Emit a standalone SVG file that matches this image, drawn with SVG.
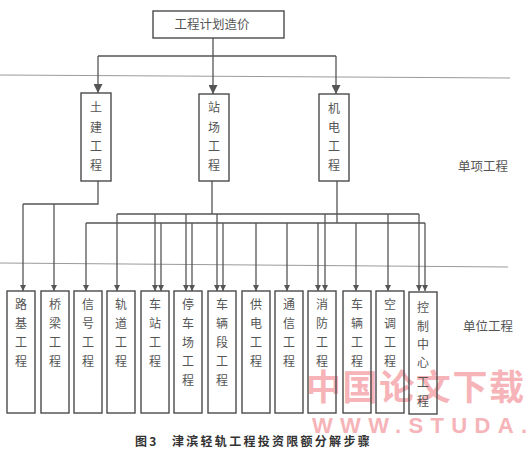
<svg xmlns="http://www.w3.org/2000/svg" width="530" height="453" viewBox="0 0 530 453">
<style>
.box{fill:none;stroke:#4a4a4a;stroke-width:1.4}
.ln{fill:none;stroke:#555;stroke-width:1.3}
.sep{stroke:#9a9a9a;stroke-width:1}
.t{font-family:"Noto Sans CJK SC","Noto Sans CJK JP",sans-serif;font-size:12px;fill:#555;text-anchor:middle}
.lab{font-family:"Noto Sans CJK SC",sans-serif;font-size:12.5px;fill:#555}
.cap{font-family:"Noto Sans CJK SC",sans-serif;font-size:12px;font-weight:bold;fill:#333;letter-spacing:2.3px}
.wm{font-family:"Noto Sans CJK SC",sans-serif;font-weight:bold;fill:#f6b4b8}
.wm2{font-family:"Liberation Sans",sans-serif;font-weight:bold;fill:#f6b4b8}
</style>
<defs>
<marker id="aS" viewBox="0 0 10 10" refX="10" refY="5" markerUnits="userSpaceOnUse" markerWidth="8" markerHeight="6" orient="auto"><path d="M0,0 L10,5 L0,10 z" fill="#555"/></marker>
<marker id="aL" viewBox="0 0 10 10" refX="10" refY="5" markerUnits="userSpaceOnUse" markerWidth="9" markerHeight="9" orient="auto"><path d="M0,0 L10,5 L0,10 z" fill="#555"/></marker>
</defs>
<rect width="530" height="453" fill="#fff"/>
<!-- watermark (under the drawing) -->
<text class="wm" x="306" y="400" font-size="35" textLength="218" lengthAdjust="spacing">中国论文下载</text>
<text class="wm2" x="312" y="433" font-size="22" textLength="215" lengthAdjust="spacing">WWW.STUDA.</text>
<!-- separators -->
<line class="sep" x1="0" y1="75" x2="510" y2="78"/>
<line class="sep" x1="0" y1="263" x2="508" y2="267"/>
<text class="lab" x="458" y="171">单项工程</text>
<text class="lab" x="463" y="331">单位工程</text>

<g id="connectors">
<path class="ln" d="M213,38 V56 M98,56 H336"/>
<line class="ln" x1="98" y1="56" x2="98" y2="93" marker-end="url(#aL)"/>
<line class="ln" x1="213" y1="56" x2="213" y2="94" marker-end="url(#aL)"/>
<line class="ln" x1="336" y1="56" x2="336" y2="94" marker-end="url(#aL)"/>
<!-- 土建 -->
<path class="ln" d="M98,181 V204 H23"/>
<line class="ln" x1="23" y1="204" x2="23" y2="291" marker-end="url(#aS)"/>
<line class="ln" x1="54" y1="204" x2="54" y2="291" marker-end="url(#aS)"/>
<!-- 站场 -->
<path class="ln" d="M212,181 V214 M117,214 H419"/>
<line class="ln" x1="117" y1="214" x2="117" y2="291" marker-end="url(#aS)"/>
<line class="ln" x1="155" y1="214" x2="155" y2="291" marker-end="url(#aS)"/>
<line class="ln" x1="186" y1="214" x2="186" y2="291" marker-end="url(#aS)"/>
<line class="ln" x1="217" y1="214" x2="217" y2="291" marker-end="url(#aS)"/>
<line class="ln" x1="325" y1="214" x2="325" y2="291" marker-end="url(#aS)"/>
<line class="ln" x1="388" y1="214" x2="388" y2="291" marker-end="url(#aS)"/>
<line class="ln" x1="419" y1="214" x2="419" y2="291" marker-end="url(#aS)"/>
<!-- 机电 -->
<path class="ln" d="M337,181 V223 M86,223 H425"/>
<line class="ln" x1="86" y1="223" x2="86" y2="291" marker-end="url(#aS)"/>
<line class="ln" x1="161" y1="223" x2="161" y2="291" marker-end="url(#aS)"/>
<line class="ln" x1="192" y1="223" x2="192" y2="291" marker-end="url(#aS)"/>
<line class="ln" x1="223" y1="223" x2="223" y2="291" marker-end="url(#aS)"/>
<line class="ln" x1="256" y1="223" x2="256" y2="291" marker-end="url(#aS)"/>
<line class="ln" x1="287" y1="223" x2="287" y2="291" marker-end="url(#aS)"/>
<line class="ln" x1="318" y1="223" x2="318" y2="291" marker-end="url(#aS)"/>
<line class="ln" x1="356" y1="223" x2="356" y2="291" marker-end="url(#aS)"/>
<line class="ln" x1="425" y1="223" x2="425" y2="291" marker-end="url(#aS)"/>
</g>

<g id="n-top"><rect class="box" x="153" y="11" width="131" height="27"/><text class="t" x="212" y="29" style="font-size:12.5px">工程计划造价</text></g>

<g id="n-tujian"><rect class="box" x="81" y="93" width="30" height="88"/>
<text class="t"><tspan x="96" y="112">土</tspan><tspan x="96" y="132">建</tspan><tspan x="96" y="151">工</tspan><tspan x="96" y="170">程</tspan></text></g>
<g id="n-zhanchang"><rect class="box" x="199" y="94" width="30" height="87"/>
<text class="t"><tspan x="214" y="112">站</tspan><tspan x="214" y="132">场</tspan><tspan x="214" y="151">工</tspan><tspan x="214" y="170">程</tspan></text></g>
<g id="n-jidian"><rect class="box" x="319" y="94" width="30" height="87"/>
<text class="t"><tspan x="334" y="113">机</tspan><tspan x="334" y="132">电</tspan><tspan x="334" y="151">工</tspan><tspan x="334" y="170">程</tspan></text></g>

<g id="n-luji"><rect class="box" x="7" y="291" width="28" height="122"/>
<text class="t"><tspan x="21" y="309">路</tspan><tspan x="21" y="328">基</tspan><tspan x="21" y="347">工</tspan><tspan x="21" y="366">程</tspan></text></g>
<g id="n-qiaoliang"><rect class="box" x="41" y="291" width="28" height="122"/>
<text class="t"><tspan x="55" y="309">桥</tspan><tspan x="55" y="328">梁</tspan><tspan x="55" y="347">工</tspan><tspan x="55" y="366">程</tspan></text></g>
<g id="n-xinhao"><rect class="box" x="74" y="291" width="28" height="122"/>
<text class="t"><tspan x="88" y="309">信</tspan><tspan x="88" y="328">号</tspan><tspan x="88" y="347">工</tspan><tspan x="88" y="366">程</tspan></text></g>
<g id="n-guidao"><rect class="box" x="107" y="291" width="28" height="122"/>
<text class="t"><tspan x="121" y="309">轨</tspan><tspan x="121" y="328">道</tspan><tspan x="121" y="347">工</tspan><tspan x="121" y="366">程</tspan></text></g>
<g id="n-chezhan"><rect class="box" x="141" y="291" width="28" height="122"/>
<text class="t"><tspan x="155" y="309">车</tspan><tspan x="155" y="328">站</tspan><tspan x="155" y="347">工</tspan><tspan x="155" y="366">程</tspan></text></g>
<g id="n-tingchechang"><rect class="box" x="174" y="291" width="28" height="122"/>
<text class="t"><tspan x="188" y="309">停</tspan><tspan x="188" y="328">车</tspan><tspan x="188" y="347">场</tspan><tspan x="188" y="366">工</tspan><tspan x="188" y="385">程</tspan></text></g>
<g id="n-cheliangduan"><rect class="box" x="208" y="291" width="28" height="122"/>
<text class="t"><tspan x="222" y="309">车</tspan><tspan x="222" y="328">辆</tspan><tspan x="222" y="347">段</tspan><tspan x="222" y="366">工</tspan><tspan x="222" y="385">程</tspan></text></g>
<g id="n-gongdian"><rect class="box" x="242" y="291" width="28" height="122"/>
<text class="t"><tspan x="256" y="309">供</tspan><tspan x="256" y="328">电</tspan><tspan x="256" y="347">工</tspan><tspan x="256" y="366">程</tspan></text></g>
<g id="n-tongxin"><rect class="box" x="275" y="291" width="28" height="122"/>
<text class="t"><tspan x="289" y="309">通</tspan><tspan x="289" y="328">信</tspan><tspan x="289" y="347">工</tspan><tspan x="289" y="366">程</tspan></text></g>
<g id="n-xiaofang"><rect class="box" x="308" y="291" width="28" height="122"/>
<text class="t"><tspan x="322" y="309">消</tspan><tspan x="322" y="328">防</tspan><tspan x="322" y="347">工</tspan><tspan x="322" y="366">程</tspan></text></g>
<g id="n-cheliang"><rect class="box" x="343" y="291" width="28" height="122"/>
<text class="t"><tspan x="357" y="309">车</tspan><tspan x="357" y="328">辆</tspan><tspan x="357" y="347">工</tspan><tspan x="357" y="366">程</tspan></text></g>
<g id="n-kongtiao"><rect class="box" x="376" y="291" width="28" height="122"/>
<text class="t"><tspan x="390" y="309">空</tspan><tspan x="390" y="328">调</tspan><tspan x="390" y="347">工</tspan><tspan x="390" y="366">程</tspan></text></g>
<g id="n-kongzhi"><rect class="box" x="409" y="292" width="28" height="122"/>
<text class="t"><tspan x="423" y="312">控</tspan><tspan x="423" y="331">制</tspan><tspan x="423" y="349">中</tspan><tspan x="423" y="367">心</tspan><tspan x="423" y="387">工</tspan><tspan x="423" y="406">程</tspan></text></g>

<text class="cap" x="135" y="446">图3</text>
<text class="cap" x="172" y="446" textLength="200" lengthAdjust="spacing">津滨轻轨工程投资限额分解步骤</text>
</svg>
